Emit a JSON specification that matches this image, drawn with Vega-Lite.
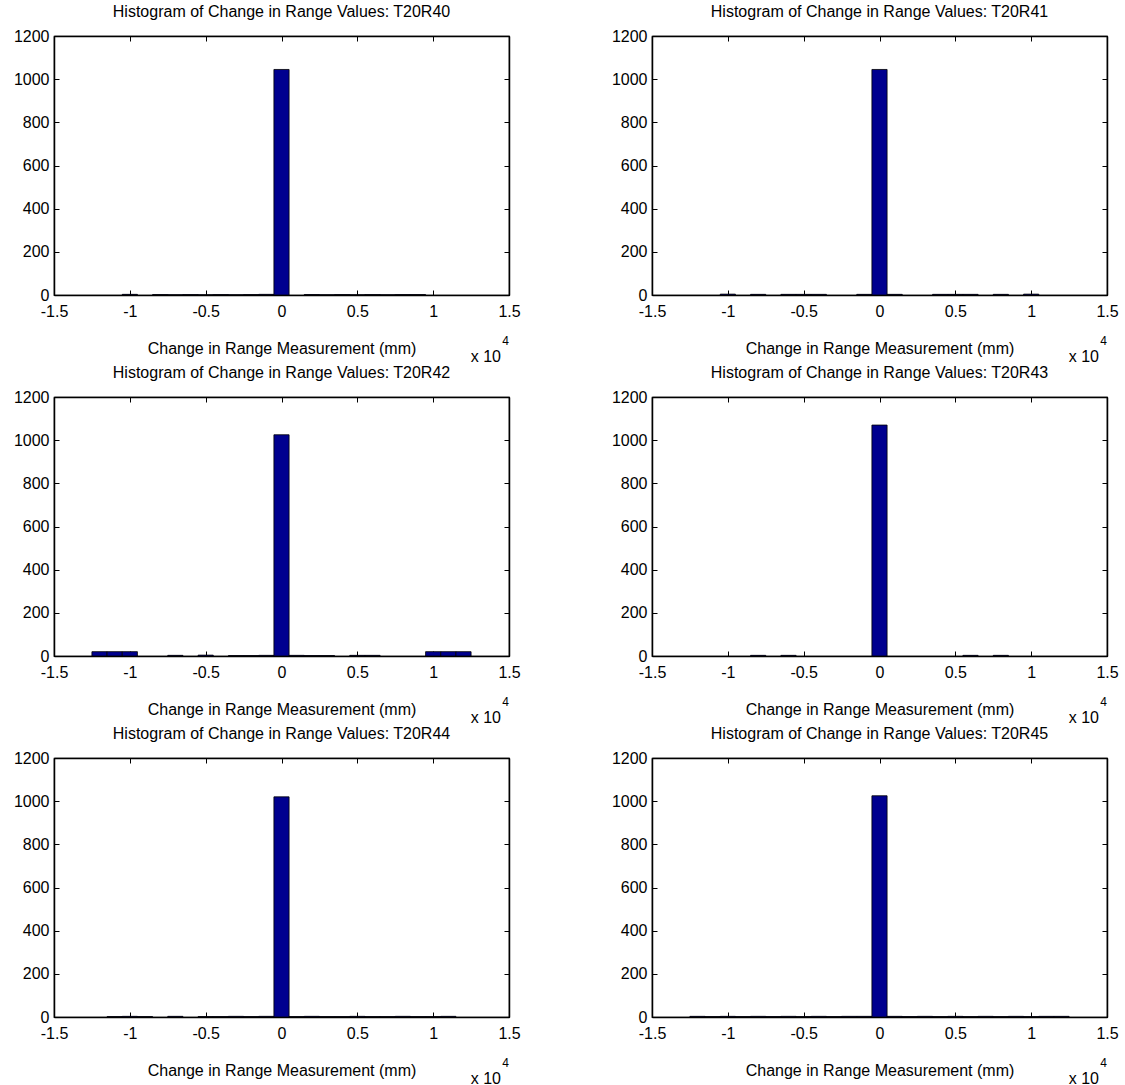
{
  "$schema": "https://vega.github.io/schema/vega-lite/v6.json",
  "background": "white",
  "padding": {"left": 12, "top": 3, "right": 5, "bottom": 0},
  "datasets": {
    "bins": [
      {"p": "T20R40", "lo": -10500, "hi": -9500, "n": 3},
      {"p": "T20R40", "lo": -8500, "hi": -7500, "n": 2},
      {"p": "T20R40", "lo": -7500, "hi": -6500, "n": 1},
      {"p": "T20R40", "lo": -6500, "hi": -5500, "n": 2},
      {"p": "T20R40", "lo": -5500, "hi": -4500, "n": 1},
      {"p": "T20R40", "lo": -4500, "hi": -3500, "n": 2},
      {"p": "T20R40", "lo": -3500, "hi": -2500, "n": 1},
      {"p": "T20R40", "lo": -2500, "hi": -1500, "n": 2},
      {"p": "T20R40", "lo": -1500, "hi": -500, "n": 3},
      {"p": "T20R40", "lo": -500, "hi": 500, "n": 1045},
      {"p": "T20R40", "lo": 1500, "hi": 2500, "n": 2},
      {"p": "T20R40", "lo": 2500, "hi": 3500, "n": 1},
      {"p": "T20R40", "lo": 3500, "hi": 4500, "n": 2},
      {"p": "T20R40", "lo": 4500, "hi": 5500, "n": 1},
      {"p": "T20R40", "lo": 5500, "hi": 6500, "n": 2},
      {"p": "T20R40", "lo": 6500, "hi": 7500, "n": 1},
      {"p": "T20R40", "lo": 7500, "hi": 8500, "n": 2},
      {"p": "T20R40", "lo": 8500, "hi": 9500, "n": 2},
      {"p": "T20R41", "lo": -10500, "hi": -9500, "n": 4},
      {"p": "T20R41", "lo": -8500, "hi": -7500, "n": 3},
      {"p": "T20R41", "lo": -6500, "hi": -5500, "n": 3},
      {"p": "T20R41", "lo": -5500, "hi": -4500, "n": 3},
      {"p": "T20R41", "lo": -4500, "hi": -3500, "n": 3},
      {"p": "T20R41", "lo": -1500, "hi": -500, "n": 3},
      {"p": "T20R41", "lo": -500, "hi": 500, "n": 1045},
      {"p": "T20R41", "lo": 500, "hi": 1500, "n": 3},
      {"p": "T20R41", "lo": 3500, "hi": 4500, "n": 3},
      {"p": "T20R41", "lo": 4500, "hi": 5500, "n": 3},
      {"p": "T20R41", "lo": 5500, "hi": 6500, "n": 3},
      {"p": "T20R41", "lo": 7500, "hi": 8500, "n": 3},
      {"p": "T20R41", "lo": 9500, "hi": 10500, "n": 4},
      {"p": "T20R42", "lo": -12500, "hi": -11500, "n": 20},
      {"p": "T20R42", "lo": -11500, "hi": -10500, "n": 20},
      {"p": "T20R42", "lo": -10500, "hi": -9500, "n": 20},
      {"p": "T20R42", "lo": -7500, "hi": -6500, "n": 3},
      {"p": "T20R42", "lo": -5500, "hi": -4500, "n": 4},
      {"p": "T20R42", "lo": -3500, "hi": -2500, "n": 2},
      {"p": "T20R42", "lo": -2500, "hi": -1500, "n": 2},
      {"p": "T20R42", "lo": -1500, "hi": -500, "n": 3},
      {"p": "T20R42", "lo": -500, "hi": 500, "n": 1025},
      {"p": "T20R42", "lo": 500, "hi": 1500, "n": 3},
      {"p": "T20R42", "lo": 1500, "hi": 2500, "n": 2},
      {"p": "T20R42", "lo": 2500, "hi": 3500, "n": 2},
      {"p": "T20R42", "lo": 4500, "hi": 5500, "n": 3},
      {"p": "T20R42", "lo": 5500, "hi": 6500, "n": 3},
      {"p": "T20R42", "lo": 9500, "hi": 10500, "n": 20},
      {"p": "T20R42", "lo": 10500, "hi": 11500, "n": 20},
      {"p": "T20R42", "lo": 11500, "hi": 12500, "n": 20},
      {"p": "T20R43", "lo": -8500, "hi": -7500, "n": 3},
      {"p": "T20R43", "lo": -6500, "hi": -5500, "n": 3},
      {"p": "T20R43", "lo": -500, "hi": 500, "n": 1070},
      {"p": "T20R43", "lo": 5500, "hi": 6500, "n": 3},
      {"p": "T20R43", "lo": 7500, "hi": 8500, "n": 3},
      {"p": "T20R44", "lo": -11500, "hi": -10500, "n": 2},
      {"p": "T20R44", "lo": -10500, "hi": -9500, "n": 3},
      {"p": "T20R44", "lo": -9500, "hi": -8500, "n": 2},
      {"p": "T20R44", "lo": -7500, "hi": -6500, "n": 3},
      {"p": "T20R44", "lo": -5500, "hi": -4500, "n": 2},
      {"p": "T20R44", "lo": -4500, "hi": -3500, "n": 2},
      {"p": "T20R44", "lo": -3500, "hi": -2500, "n": 3},
      {"p": "T20R44", "lo": -2500, "hi": -1500, "n": 2},
      {"p": "T20R44", "lo": -1500, "hi": -500, "n": 3},
      {"p": "T20R44", "lo": -500, "hi": 500, "n": 1020},
      {"p": "T20R44", "lo": 500, "hi": 1500, "n": 2},
      {"p": "T20R44", "lo": 1500, "hi": 2500, "n": 3},
      {"p": "T20R44", "lo": 2500, "hi": 3500, "n": 2},
      {"p": "T20R44", "lo": 3500, "hi": 4500, "n": 2},
      {"p": "T20R44", "lo": 4500, "hi": 5500, "n": 3},
      {"p": "T20R44", "lo": 5500, "hi": 6500, "n": 2},
      {"p": "T20R44", "lo": 6500, "hi": 7500, "n": 2},
      {"p": "T20R44", "lo": 7500, "hi": 8500, "n": 3},
      {"p": "T20R44", "lo": 8500, "hi": 9500, "n": 2},
      {"p": "T20R44", "lo": 9500, "hi": 10500, "n": 2},
      {"p": "T20R44", "lo": 10500, "hi": 11500, "n": 3},
      {"p": "T20R45", "lo": -12500, "hi": -11500, "n": 3},
      {"p": "T20R45", "lo": -11500, "hi": -10500, "n": 2},
      {"p": "T20R45", "lo": -10500, "hi": -9500, "n": 3},
      {"p": "T20R45", "lo": -9500, "hi": -8500, "n": 2},
      {"p": "T20R45", "lo": -8500, "hi": -7500, "n": 3},
      {"p": "T20R45", "lo": -7500, "hi": -6500, "n": 2},
      {"p": "T20R45", "lo": -6500, "hi": -5500, "n": 3},
      {"p": "T20R45", "lo": -5500, "hi": -4500, "n": 2},
      {"p": "T20R45", "lo": -4500, "hi": -3500, "n": 3},
      {"p": "T20R45", "lo": -3500, "hi": -2500, "n": 2},
      {"p": "T20R45", "lo": -2500, "hi": -1500, "n": 3},
      {"p": "T20R45", "lo": -1500, "hi": -500, "n": 3},
      {"p": "T20R45", "lo": -500, "hi": 500, "n": 1025},
      {"p": "T20R45", "lo": 500, "hi": 1500, "n": 3},
      {"p": "T20R45", "lo": 1500, "hi": 2500, "n": 2},
      {"p": "T20R45", "lo": 2500, "hi": 3500, "n": 3},
      {"p": "T20R45", "lo": 3500, "hi": 4500, "n": 2},
      {"p": "T20R45", "lo": 4500, "hi": 5500, "n": 3},
      {"p": "T20R45", "lo": 5500, "hi": 6500, "n": 2},
      {"p": "T20R45", "lo": 6500, "hi": 7500, "n": 3},
      {"p": "T20R45", "lo": 7500, "hi": 8500, "n": 2},
      {"p": "T20R45", "lo": 8500, "hi": 9500, "n": 3},
      {"p": "T20R45", "lo": 9500, "hi": 10500, "n": 2},
      {"p": "T20R45", "lo": 10500, "hi": 11500, "n": 3},
      {"p": "T20R45", "lo": 11500, "hi": 12500, "n": 3}
    ]
  },
  "data": {"name": "bins"},
  "columns": 2,
  "spacing": {"row": -2, "column": 89},
  "concat": [
    {
      "title": "Histogram of Change in Range Values: T20R40",
      "width": 455, "height": 259,
      "transform": [{"filter": "datum.p == 'T20R40'"}],
      "layer": [
        {"mark": {"type": "rect", "fill": "#00008F", "stroke": "black", "strokeWidth": 0.8},
         "encoding": {
           "x": {"field": "lo", "type": "quantitative", "scale": {"domain": [-15000, 15000], "nice": false}, "axis": {"orient": "bottom", "title": "Change in Range Measurement (mm)", "values": [-15000, -10000, -5000, 0, 5000, 10000, 15000], "labelExpr": "datum.value / 10000"}},
           "x2": {"field": "hi"},
           "y": {"field": "n", "type": "quantitative", "scale": {"domain": [0, 1200], "nice": false}, "axis": {"orient": "left", "title": null, "values": [0, 200, 400, 600, 800, 1000, 1200], "format": "d"}},
           "y2": {"datum": 0}}},
        {"mark": {"type": "rect", "opacity": 0},
         "encoding": {
           "x": {"field": "lo", "type": "quantitative", "axis": {"orient": "top", "labels": false, "title": null, "values": [-15000, -10000, -5000, 0, 5000, 10000, 15000]}},
           "x2": {"field": "hi"},
           "y": {"field": "n", "type": "quantitative", "axis": {"orient": "right", "labels": false, "title": null, "values": [0, 200, 400, 600, 800, 1000, 1200]}},
           "y2": {"datum": 0}}},
        {"data": {"values": [{}]}, "mark": {"type": "text", "text": "x 10", "align": "right", "baseline": "middle", "dx": -8, "dy": 62, "fontSize": 16},
         "encoding": {"x": {"datum": 15000, "axis": null}, "y": {"datum": 0, "axis": null}}},
        {"data": {"values": [{}]}, "mark": {"type": "text", "text": "4", "align": "right", "baseline": "middle", "dx": 0, "dy": 46, "fontSize": 12},
         "encoding": {"x": {"datum": 15000, "axis": null}, "y": {"datum": 0, "axis": null}}}
      ]
    },
    {
      "title": "Histogram of Change in Range Values: T20R41",
      "width": 455, "height": 259,
      "transform": [{"filter": "datum.p == 'T20R41'"}],
      "layer": [
        {"mark": {"type": "rect", "fill": "#00008F", "stroke": "black", "strokeWidth": 0.8},
         "encoding": {
           "x": {"field": "lo", "type": "quantitative", "scale": {"domain": [-15000, 15000], "nice": false}, "axis": {"orient": "bottom", "title": "Change in Range Measurement (mm)", "values": [-15000, -10000, -5000, 0, 5000, 10000, 15000], "labelExpr": "datum.value / 10000"}},
           "x2": {"field": "hi"},
           "y": {"field": "n", "type": "quantitative", "scale": {"domain": [0, 1200], "nice": false}, "axis": {"orient": "left", "title": null, "values": [0, 200, 400, 600, 800, 1000, 1200], "format": "d"}},
           "y2": {"datum": 0}}},
        {"mark": {"type": "rect", "opacity": 0},
         "encoding": {
           "x": {"field": "lo", "type": "quantitative", "axis": {"orient": "top", "labels": false, "title": null, "values": [-15000, -10000, -5000, 0, 5000, 10000, 15000]}},
           "x2": {"field": "hi"},
           "y": {"field": "n", "type": "quantitative", "axis": {"orient": "right", "labels": false, "title": null, "values": [0, 200, 400, 600, 800, 1000, 1200]}},
           "y2": {"datum": 0}}},
        {"data": {"values": [{}]}, "mark": {"type": "text", "text": "x 10", "align": "right", "baseline": "middle", "dx": -8, "dy": 62, "fontSize": 16},
         "encoding": {"x": {"datum": 15000, "axis": null}, "y": {"datum": 0, "axis": null}}},
        {"data": {"values": [{}]}, "mark": {"type": "text", "text": "4", "align": "right", "baseline": "middle", "dx": 0, "dy": 46, "fontSize": 12},
         "encoding": {"x": {"datum": 15000, "axis": null}, "y": {"datum": 0, "axis": null}}}
      ]
    },
    {
      "title": "Histogram of Change in Range Values: T20R42",
      "width": 455, "height": 259,
      "transform": [{"filter": "datum.p == 'T20R42'"}],
      "layer": [
        {"mark": {"type": "rect", "fill": "#00008F", "stroke": "black", "strokeWidth": 0.8},
         "encoding": {
           "x": {"field": "lo", "type": "quantitative", "scale": {"domain": [-15000, 15000], "nice": false}, "axis": {"orient": "bottom", "title": "Change in Range Measurement (mm)", "values": [-15000, -10000, -5000, 0, 5000, 10000, 15000], "labelExpr": "datum.value / 10000"}},
           "x2": {"field": "hi"},
           "y": {"field": "n", "type": "quantitative", "scale": {"domain": [0, 1200], "nice": false}, "axis": {"orient": "left", "title": null, "values": [0, 200, 400, 600, 800, 1000, 1200], "format": "d"}},
           "y2": {"datum": 0}}},
        {"mark": {"type": "rect", "opacity": 0},
         "encoding": {
           "x": {"field": "lo", "type": "quantitative", "axis": {"orient": "top", "labels": false, "title": null, "values": [-15000, -10000, -5000, 0, 5000, 10000, 15000]}},
           "x2": {"field": "hi"},
           "y": {"field": "n", "type": "quantitative", "axis": {"orient": "right", "labels": false, "title": null, "values": [0, 200, 400, 600, 800, 1000, 1200]}},
           "y2": {"datum": 0}}},
        {"data": {"values": [{}]}, "mark": {"type": "text", "text": "x 10", "align": "right", "baseline": "middle", "dx": -8, "dy": 62, "fontSize": 16},
         "encoding": {"x": {"datum": 15000, "axis": null}, "y": {"datum": 0, "axis": null}}},
        {"data": {"values": [{}]}, "mark": {"type": "text", "text": "4", "align": "right", "baseline": "middle", "dx": 0, "dy": 46, "fontSize": 12},
         "encoding": {"x": {"datum": 15000, "axis": null}, "y": {"datum": 0, "axis": null}}}
      ]
    },
    {
      "title": "Histogram of Change in Range Values: T20R43",
      "width": 455, "height": 259,
      "transform": [{"filter": "datum.p == 'T20R43'"}],
      "layer": [
        {"mark": {"type": "rect", "fill": "#00008F", "stroke": "black", "strokeWidth": 0.8},
         "encoding": {
           "x": {"field": "lo", "type": "quantitative", "scale": {"domain": [-15000, 15000], "nice": false}, "axis": {"orient": "bottom", "title": "Change in Range Measurement (mm)", "values": [-15000, -10000, -5000, 0, 5000, 10000, 15000], "labelExpr": "datum.value / 10000"}},
           "x2": {"field": "hi"},
           "y": {"field": "n", "type": "quantitative", "scale": {"domain": [0, 1200], "nice": false}, "axis": {"orient": "left", "title": null, "values": [0, 200, 400, 600, 800, 1000, 1200], "format": "d"}},
           "y2": {"datum": 0}}},
        {"mark": {"type": "rect", "opacity": 0},
         "encoding": {
           "x": {"field": "lo", "type": "quantitative", "axis": {"orient": "top", "labels": false, "title": null, "values": [-15000, -10000, -5000, 0, 5000, 10000, 15000]}},
           "x2": {"field": "hi"},
           "y": {"field": "n", "type": "quantitative", "axis": {"orient": "right", "labels": false, "title": null, "values": [0, 200, 400, 600, 800, 1000, 1200]}},
           "y2": {"datum": 0}}},
        {"data": {"values": [{}]}, "mark": {"type": "text", "text": "x 10", "align": "right", "baseline": "middle", "dx": -8, "dy": 62, "fontSize": 16},
         "encoding": {"x": {"datum": 15000, "axis": null}, "y": {"datum": 0, "axis": null}}},
        {"data": {"values": [{}]}, "mark": {"type": "text", "text": "4", "align": "right", "baseline": "middle", "dx": 0, "dy": 46, "fontSize": 12},
         "encoding": {"x": {"datum": 15000, "axis": null}, "y": {"datum": 0, "axis": null}}}
      ]
    },
    {
      "title": "Histogram of Change in Range Values: T20R44",
      "width": 455, "height": 259,
      "transform": [{"filter": "datum.p == 'T20R44'"}],
      "layer": [
        {"mark": {"type": "rect", "fill": "#00008F", "stroke": "black", "strokeWidth": 0.8},
         "encoding": {
           "x": {"field": "lo", "type": "quantitative", "scale": {"domain": [-15000, 15000], "nice": false}, "axis": {"orient": "bottom", "title": "Change in Range Measurement (mm)", "values": [-15000, -10000, -5000, 0, 5000, 10000, 15000], "labelExpr": "datum.value / 10000"}},
           "x2": {"field": "hi"},
           "y": {"field": "n", "type": "quantitative", "scale": {"domain": [0, 1200], "nice": false}, "axis": {"orient": "left", "title": null, "values": [0, 200, 400, 600, 800, 1000, 1200], "format": "d"}},
           "y2": {"datum": 0}}},
        {"mark": {"type": "rect", "opacity": 0},
         "encoding": {
           "x": {"field": "lo", "type": "quantitative", "axis": {"orient": "top", "labels": false, "title": null, "values": [-15000, -10000, -5000, 0, 5000, 10000, 15000]}},
           "x2": {"field": "hi"},
           "y": {"field": "n", "type": "quantitative", "axis": {"orient": "right", "labels": false, "title": null, "values": [0, 200, 400, 600, 800, 1000, 1200]}},
           "y2": {"datum": 0}}},
        {"data": {"values": [{}]}, "mark": {"type": "text", "text": "x 10", "align": "right", "baseline": "middle", "dx": -8, "dy": 62, "fontSize": 16},
         "encoding": {"x": {"datum": 15000, "axis": null}, "y": {"datum": 0, "axis": null}}},
        {"data": {"values": [{}]}, "mark": {"type": "text", "text": "4", "align": "right", "baseline": "middle", "dx": 0, "dy": 46, "fontSize": 12},
         "encoding": {"x": {"datum": 15000, "axis": null}, "y": {"datum": 0, "axis": null}}}
      ]
    },
    {
      "title": "Histogram of Change in Range Values: T20R45",
      "width": 455, "height": 259,
      "transform": [{"filter": "datum.p == 'T20R45'"}],
      "layer": [
        {"mark": {"type": "rect", "fill": "#00008F", "stroke": "black", "strokeWidth": 0.8},
         "encoding": {
           "x": {"field": "lo", "type": "quantitative", "scale": {"domain": [-15000, 15000], "nice": false}, "axis": {"orient": "bottom", "title": "Change in Range Measurement (mm)", "values": [-15000, -10000, -5000, 0, 5000, 10000, 15000], "labelExpr": "datum.value / 10000"}},
           "x2": {"field": "hi"},
           "y": {"field": "n", "type": "quantitative", "scale": {"domain": [0, 1200], "nice": false}, "axis": {"orient": "left", "title": null, "values": [0, 200, 400, 600, 800, 1000, 1200], "format": "d"}},
           "y2": {"datum": 0}}},
        {"mark": {"type": "rect", "opacity": 0},
         "encoding": {
           "x": {"field": "lo", "type": "quantitative", "axis": {"orient": "top", "labels": false, "title": null, "values": [-15000, -10000, -5000, 0, 5000, 10000, 15000]}},
           "x2": {"field": "hi"},
           "y": {"field": "n", "type": "quantitative", "axis": {"orient": "right", "labels": false, "title": null, "values": [0, 200, 400, 600, 800, 1000, 1200]}},
           "y2": {"datum": 0}}},
        {"data": {"values": [{}]}, "mark": {"type": "text", "text": "x 10", "align": "right", "baseline": "middle", "dx": -8, "dy": 62, "fontSize": 16},
         "encoding": {"x": {"datum": 15000, "axis": null}, "y": {"datum": 0, "axis": null}}},
        {"data": {"values": [{}]}, "mark": {"type": "text", "text": "4", "align": "right", "baseline": "middle", "dx": 0, "dy": 46, "fontSize": 12},
         "encoding": {"x": {"datum": 15000, "axis": null}, "y": {"datum": 0, "axis": null}}}
      ]
    }
  ],
  "config": {
    "font": "Liberation Sans",
    "view": {"stroke": "black", "strokeWidth": 1.2},
    "text": {"font": "Liberation Sans", "color": "black", "fontWeight": "normal"},
    "title": {"font": "Liberation Sans", "fontSize": 16, "fontWeight": "normal", "color": "black", "offset": 8},
    "axis": {
      "grid": false,
      "domainColor": "black",
      "domainWidth": 1.5,
      "tickColor": "black",
      "tickWidth": 1,
      "tickSize": -5,
      "labelFont": "Liberation Sans",
      "labelFontSize": 16,
      "labelColor": "black",
      "labelPadding": 10,
      "labelFlush": false,
      "labelOverlap": false,
      "titleFont": "Liberation Sans",
      "titleFontSize": 16,
      "titleFontWeight": "normal",
      "titleColor": "black",
      "titlePadding": 22
    },
    "axisBottom": {"labelPadding": 13, "titlePadding": 21}
  }
}
